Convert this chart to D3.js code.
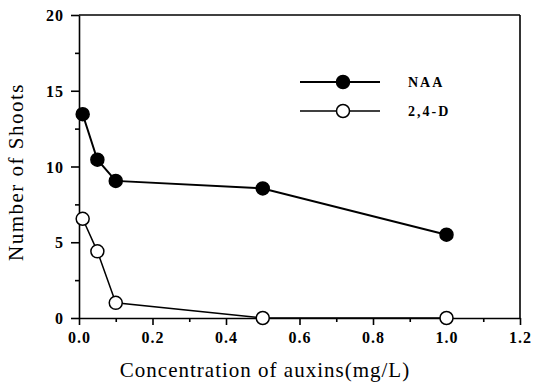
<!DOCTYPE html>
<html>
<head>
<meta charset="utf-8">
<script src="https://cdn.jsdelivr.net/npm/d3@7"></script>
<style>
  body { margin: 0; background: #fff; }
  svg { display: block; }
</style>
</head>
<body>
<script>
// data
const conc = [0.01, 0.05, 0.1, 0.5, 1.0];
const naa = [13.45, 10.45, 9.05, 8.55, 5.5];
const d24 = [6.55, 4.4, 1.0, 0, 0];
const xTicks = [0, 0.2, 0.4, 0.6, 0.8, 1.0, 1.2];
const xMinor = [0.1, 0.3, 0.5, 0.7, 0.9, 1.1];
const yTicks = [0, 5, 10, 15, 20];
const yMinor = [2.5, 7.5, 12.5, 17.5];

const serif = '"Liberation Serif", "Times New Roman", Times, "DejaVu Serif", serif';

width = 534;
height = 389;
svg = d3.select('body').append('svg')
    .attr('width', width)
    .attr('height', height)
    .style('font-family', serif);

x = d3.scaleLinear().domain([0, 1.2]).range([79, 520]);
y = d3.scaleLinear().domain([0, 20]).range([318, 15]);

function styleAxis(g){
    g.attr('font-family', null);
    g.selectAll('path, line').attr('stroke', '#000').attr('stroke-width', 1.6);
}

// x axis, major + minor ticks
svg.append('g')
    .attr('transform', 'translate(0,' + y(0) + ')')
    .call(d3.axisBottom(x).tickValues(xTicks).tickSize(7).tickSizeOuter(0)
        .tickFormat(d3.format('.1f')))
    .call(styleAxis)
    .call(g => g.selectAll('text')
        .attr('dy', null).attr('y', 25).attr('fill', '#000')
        .style('font-family', serif)
        .style('font-size', '16px').style('font-weight', 'bold')
        .style('letter-spacing', '1px'));
svg.append('g')
    .attr('transform', 'translate(0,' + y(0) + ')')
    .call(d3.axisBottom(x).tickValues(xMinor).tickSize(4).tickFormat(''))
    .call(styleAxis)
    .call(g => g.select('.domain').remove());

// y axis
svg.append('g')
    .attr('transform', 'translate(' + x(0) + ',0)')
    .call(d3.axisLeft(y).tickValues(yTicks).tickSize(8).tickSizeOuter(0))
    .call(styleAxis)
    .call(g => g.selectAll('text')
        .attr('x', -15).attr('dy', '0.35em').attr('fill', '#000')
        .style('font-family', serif)
        .style('font-size', '16px').style('font-weight', 'bold')
        .style('letter-spacing', '1px'));
svg.append('g')
    .attr('transform', 'translate(' + x(0) + ',0)')
    .call(d3.axisLeft(y).tickValues(yMinor).tickSize(4).tickFormat(''))
    .call(styleAxis)
    .call(g => g.select('.domain').remove());

// frame top and right
svg.append('line')
    .attr('x1', x(0)).attr('x2', x(1.2))
    .attr('y1', y(20)).attr('y2', y(20))
    .attr('stroke', '#000').attr('stroke-width', 1.6);
svg.append('line')
    .attr('x1', x(1.2)).attr('x2', x(1.2))
    .attr('y1', y(20)).attr('y2', y(0))
    .attr('stroke', '#000').attr('stroke-width', 1.6);

// series
line = d3.line().x(d => x(d[0])).y(d => y(d[1]));

series = [
    {name: 'NAA', values: naa, fill: '#000', width: 2},
    {name: '2,4-D', values: d24, fill: '#fff', width: 1.5}
];

series.forEach(s => {
    pts = conc.map((c, i) => [c, s.values[i]]);
    svg.append('path')
        .datum(pts)
        .attr('d', line)
        .attr('fill', 'none')
        .attr('stroke', '#000')
        .attr('stroke-width', s.width);
    svg.selectAll(null)
        .data(pts)
        .join('circle')
        .attr('cx', d => x(d[0]))
        .attr('cy', d => y(d[1]))
        .attr('r', 6.5)
        .attr('fill', s.fill)
        .attr('stroke', '#000')
        .attr('stroke-width', 1.5);
});

// legend
legendY = [82, 111];
series.forEach((s, i) => {
    svg.append('line')
        .attr('x1', 300).attr('x2', 380)
        .attr('y1', legendY[i]).attr('y2', legendY[i])
        .attr('stroke', '#000').attr('stroke-width', s.width);
    svg.append('circle')
        .attr('cx', 343).attr('cy', legendY[i])
        .attr('r', 6.5)
        .attr('fill', s.fill)
        .attr('stroke', '#000')
        .attr('stroke-width', 1.5);
    svg.append('text')
        .attr('x', 408).attr('y', legendY[i] + 5)
        .style('font-family', serif)
        .style('font-size', '14px').style('font-weight', 'bold')
        .style('letter-spacing', '2px')
        .text(s.name);
});

// axis titles
svg.append('text')
    .attr('x', 265).attr('y', 377)
    .attr('text-anchor', 'middle')
    .style('font-family', serif)
    .style('font-size', '21px')
    .style('letter-spacing', '1px')
    .text('Concentration of auxins(mg/L)');

svg.append('text')
    .attr('transform', 'translate(23,172) rotate(-90)')
    .attr('text-anchor', 'middle')
    .style('font-family', serif)
    .style('font-size', '21px')
    .style('letter-spacing', '1.5px')
    .text('Number of Shoots');
</script>
</body>
</html>
